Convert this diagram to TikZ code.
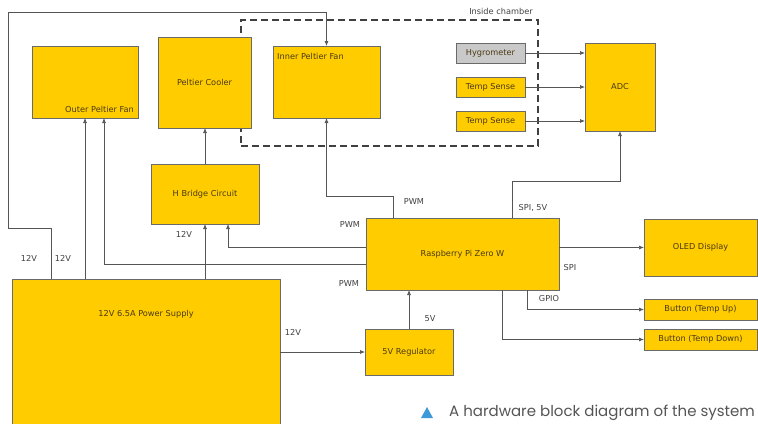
\documentclass[tikz,border=0pt]{standalone}
\usepackage{fontspec}
\setmainfont{DejaVu Sans}
\newfontfamily\capfont{Poppins}
\usetikzlibrary{arrows.meta}
\definecolor{boxyellow}{HTML}{FFCC00}
\definecolor{boxline}{HTML}{6A6A6A}
\definecolor{boxtext}{HTML}{4A3A10}
\definecolor{wire}{HTML}{555555}
\definecolor{hyggray}{HTML}{C9C9C9}
\definecolor{capblue}{HTML}{3D9AD6}
\definecolor{captext}{HTML}{555555}
\tikzset{
  box/.style={draw=boxline, fill=boxyellow, line width=0.8pt, rectangle, inner sep=0pt, outer sep=0pt, font=\fontsize{8.2}{9}\selectfont, text=boxtext},
  txt/.style={font=\fontsize{8.2}{9}\selectfont, text=boxtext, inner sep=0pt},
  lbl/.style={font=\fontsize{8.2}{9}\selectfont, text=black!75, inner sep=0pt},
  arr/.style={draw=wire, line width=0.7pt, -{Latex[length=5pt,width=4pt]}},
  chamberbox/.style={draw=black!75, line width=1.2pt, dash pattern=on 7pt off 4pt, rectangle, inner sep=0pt},
}
\begin{document}
\begin{tikzpicture}[x=1pt,y=-1pt]
\useasboundingbox (0,0) rectangle (758,424);
% dashed chamber
\node[chamberbox, minimum width=297pt, minimum height=126pt] (chamber) at (389.5,83) {};
\node[lbl] (chamberlbl) at (501,11) {Inside chamber};
% boxes
\node[box, minimum width=106pt, minimum height=72pt] (ofan) at (85,82) {};
\node[txt, anchor=east] (ofant) at (134,109) {Outer Peltier Fan};
\node[box, minimum width=93pt, minimum height=91pt] (cooler) at (204.5,82.5) {Peltier Cooler};
\node[box, minimum width=107pt, minimum height=72pt] (ifan) at (326.5,82) {};
\node[txt, anchor=west] (ifant) at (277,56) {Inner Peltier Fan};
\node[box, fill=hyggray, minimum width=69pt, minimum height=20pt] (hyg) at (490.5,53) {Hygrometer};
\node[box, minimum width=69pt, minimum height=20pt] (ts1) at (490.5,87) {Temp Sense};
\node[box, minimum width=69pt, minimum height=20pt] (ts2) at (490.5,121) {Temp Sense};
\node[box, minimum width=70pt, minimum height=88pt] (adc) at (620,87) {ADC};
\node[box, minimum width=108pt, minimum height=60pt] (hb) at (205,194) {H Bridge Circuit};
\node[box, minimum width=193pt, minimum height=72pt] (rpi) at (462.5,254) {Raspberry Pi Zero W};
\node[box, minimum width=113pt, minimum height=57pt] (oled) at (700.5,247.5) {OLED Display};
\node[box, minimum width=113pt, minimum height=21pt] (bup) at (700.5,309.5) {Button (Temp Up)};
\node[box, minimum width=113pt, minimum height=21pt] (bdn) at (700.5,339.5) {Button (Temp Down)};
\node[box, minimum width=88pt, minimum height=46pt] (reg) at (409,352) {5V Regulator};
\node[box, draw=none, minimum width=268pt, minimum height=145pt] (psu) at (146,351.5) {};
\draw[boxline, line width=0.8pt] (psu.south west) -- (psu.north west) -- (psu.north east) -- (psu.south east);
\node[txt] (psut) at (146,314) {12V 6.5A Power Supply};
% connectors
\coordinate (p1) at ([xshift=39pt]psu.north west);
\coordinate (p2) at ([xshift=73pt]psu.north west);
\coordinate (c1) at (8,228);
\coordinate (c2) at (8,12);
\draw[arr] (p1) |- (c1) -- (c2) -| (ifan.north);
\draw[arr] (p2) -- (ofan.south);
\draw[arr] ([yshift=-10pt]rpi.west) -| ([xshift=19pt]ofan.south);
\draw[arr] ([yshift=7pt]rpi.west) -| ([xshift=23pt]hb.south);
\draw[arr] (hb.south |- psu.north) -- (hb.south);
\draw[arr] (hb.north) -- (hb.north |- cooler.south);
\draw[arr] ([xshift=-69.5pt]rpi.north) -- ++(0,-22) -| (ifan.south);
\draw[arr] ([xshift=49.5pt]rpi.north) -- ++(0,-37) -| (adc.south);
\draw[arr] (rpi.east |- oled.west) -- (oled.west);
\draw[arr] ([xshift=64.5pt]rpi.south) |- (bup.west);
\draw[arr] ([xshift=39.5pt]rpi.south) |- (bdn.west);
\draw[arr] (reg.north) -- (reg.north |- rpi.south);
\draw[arr] (psu.east |- reg.west) -- (reg.west);
\draw[arr] (hyg.east) -- (hyg.east -| adc.west);
\draw[arr] (ts1.east) -- (ts1.east -| adc.west);
\draw[arr] (ts2.east) -- (ts2.east -| adc.west);
% labels
\node[lbl] (l12a) at (29,258) {12V};
\node[lbl] (l12b) at (63,258) {12V};
\node[lbl] (l12c) at (184,234) {12V};
\node[lbl] (l12d) at (293,332) {12V};
\node[lbl] (l5v) at (430,319) {5V};
\node[lbl] (lpwm1) at (414,202) {PWM};
\node[lbl] (lpwm2) at (350,225) {PWM};
\node[lbl] (lpwm3) at (349,284) {PWM};
\node[lbl] (lspi5) at (533,208) {SPI, 5V};
\node[lbl] (lspi) at (570,268) {SPI};
\node[lbl] (lgpio) at (549,299) {GPIO};
% caption
\fill[capblue] (421,418) -- (433,418) -- (427,407) -- cycle;
\node[anchor=west, inner sep=0pt, text=captext, font=\capfont\fontsize{15}{16}\selectfont] (cap) at (449,413) {A hardware block diagram of the system};
\end{tikzpicture}
\end{document}
